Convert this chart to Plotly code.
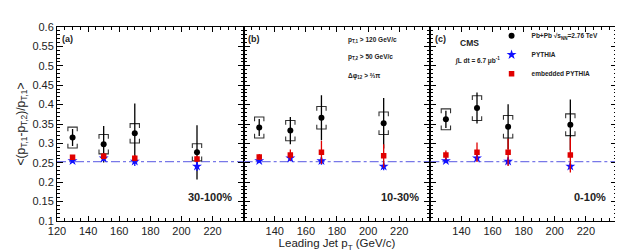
import plotly.graph_objects as go
from plotly.subplots import make_subplots

# ---------------- data ----------------
lead_pt = [130, 150, 170, 210]
panel_labels = ["(a)", "(b)", "(c)"]
centrality = ["30-100%", "10-30%", "0-10%"]

pbpb_a = [0.315, 0.298, 0.326, 0.277]
pbpb_stat_a = [0.022, 0.047, 0.077, 0.070]
pbpb_sys_a = [0.027, 0.025, 0.025, 0.022]
emb_a = [0.264, 0.267, 0.262, 0.260]
emb_err_a = [0.006, 0.008, 0.008, 0.008]
pyt_a = [0.255, 0.262, 0.254, 0.241]
pyt_err_a = [0.005, 0.008, 0.012, 0.012]

pbpb_b = [0.341, 0.333, 0.366, 0.352]
pbpb_stat_b = [0.022, 0.035, 0.058, 0.065]
pbpb_sys_b = [0.027, 0.026, 0.029, 0.029]
emb_b = [0.265, 0.270, 0.277, 0.268]
emb_err_b = [0.008, 0.014, 0.030, 0.030]
pyt_b = [0.255, 0.262, 0.255, 0.241]
pyt_err_b = [0.005, 0.008, 0.010, 0.010]

pbpb_c = [0.362, 0.391, 0.343, 0.348]
pbpb_stat_c = [0.022, 0.040, 0.058, 0.065]
pbpb_sys_c = [0.027, 0.032, 0.029, 0.028]
emb_c = [0.270, 0.277, 0.277, 0.270]
emb_err_c = [0.012, 0.025, 0.035, 0.045]
pyt_c = [0.255, 0.262, 0.254, 0.241]
pyt_err_c = [0.005, 0.006, 0.010, 0.010]

pythia_ref = 0.253
x_range = [120, 240]
y_range = [0.1, 0.6]

panels = [
    (pbpb_a, pbpb_stat_a, pbpb_sys_a, emb_a, emb_err_a, pyt_a, pyt_err_a),
    (pbpb_b, pbpb_stat_b, pbpb_sys_b, emb_b, emb_err_b, pyt_b, pyt_err_b),
    (pbpb_c, pbpb_stat_c, pbpb_sys_c, emb_c, emb_err_c, pyt_c, pyt_err_c),
]

FONT = "Liberation Sans, Arial, sans-serif"
BLUE = "#1010ff"
RED = "#e00000"

fig = make_subplots(rows=1, cols=3, shared_yaxes=True, horizontal_spacing=0)

br_w = 3.0     # half width of systematic bracket (data units)
br_t = 0.011   # bracket tick length (data units)

for i, (d, st, sy, em, eme, py, pye) in enumerate(panels):
    col = i + 1
    # reference line
    fig.add_trace(go.Scatter(x=x_range, y=[pythia_ref, pythia_ref], mode="lines",
                             line=dict(color="#7878e8", width=1.2, dash="dashdot"),
                             showlegend=False, hoverinfo="skip"), row=1, col=col)
    # systematic brackets
    bx, by = [], []
    for x, y, s in zip(lead_pt, d, sy):
        top, bot = y + s, y - s
        bx += [x - br_w, x - br_w, x + br_w, x + br_w, None,
               x - br_w, x - br_w, x + br_w, x + br_w, None]
        by += [top - br_t, top, top, top - br_t, None,
               bot + br_t, bot, bot, bot + br_t, None]
    fig.add_trace(go.Scatter(x=bx, y=by, mode="lines",
                             line=dict(color="#333333", width=1.1),
                             showlegend=False, hoverinfo="skip"), row=1, col=col)
    # Pb+Pb data
    fig.add_trace(go.Scatter(x=lead_pt, y=d, mode="markers",
                             marker=dict(symbol="circle", size=6, color="black"),
                             error_y=dict(type="data", array=st, color="black",
                                          thickness=1.3, width=0),
                             name="<b>Pb+Pb √s<sub>NN</sub>=2.76 TeV</b>", legendrank=1,
                             showlegend=(i == 0)), row=1, col=col)
    # PYTHIA
    fig.add_trace(go.Scatter(x=lead_pt, y=py, mode="markers",
                             marker=dict(symbol="star", size=7.5, color=BLUE),
                             error_y=dict(type="data", array=pye, color=BLUE,
                                          thickness=1.3, width=0),
                             name="<b>PYTHIA</b>", legendrank=2,
                             showlegend=(i == 0)), row=1, col=col)
    # embedded PYTHIA
    fig.add_trace(go.Scatter(x=lead_pt, y=em, mode="markers",
                             marker=dict(symbol="square", size=5.5, color=RED),
                             error_y=dict(type="data", array=eme, color=RED,
                                          thickness=1.3, width=0),
                             name="<b>embedded PYTHIA</b>", legendrank=3,
                             showlegend=(i == 0)), row=1, col=col)

axis_common = dict(showline=True, linecolor="black", linewidth=1, mirror="ticks",
                   ticks="inside", tickcolor="black", showgrid=False, zeroline=False,
                   tickfont=dict(family=FONT, size=11, color="#222"))

for i in range(3):
    col = i + 1
    tv = [120, 140, 160, 180, 200, 220, 240]
    if i == 0:
        tt = ["120", "140", "160", "180", "200", "220", ""]
    else:
        tt = ["", "140", "160", "180", "200", "220", ""]
    fig.update_xaxes(range=x_range, tickvals=tv, ticktext=tt, ticklen=5,
                     minor=dict(dtick=5, ticklen=3, ticks="inside", tickcolor="black", showgrid=False),
                     **axis_common, row=1, col=col)
    fig.update_yaxes(range=y_range, dtick=0.05, tick0=0.1, ticklen=6,
                     minor=dict(dtick=0.01, ticklen=3, ticks="inside", tickcolor="black", showgrid=False),
                     showticklabels=(i == 0),
                     **axis_common, row=1, col=col)

fig.update_xaxes(title=dict(text="Leading Jet p<sub>T</sub> (GeV/c)",
                            font=dict(family=FONT, size=11.5, color="#222"), standoff=2),
                 row=1, col=2)
fig.update_yaxes(title=dict(text="&lt;(p<sub>T,1</sub>-p<sub>T,2</sub>)/p<sub>T,1</sub>&gt;",
                            font=dict(family=FONT, size=12, color="#222"), standoff=4),
                 row=1, col=1)

ann = []
for i in range(3):
    xr = "x domain" if i == 0 else f"x{i+1} domain"
    ann.append(dict(text=f"<b>{panel_labels[i]}</b>", xref=xr, yref="y", x=0.015, y=0.568,
                    xanchor="left", yanchor="middle", showarrow=False,
                    font=dict(family=FONT, size=9, color="#222")))
    ann.append(dict(text=f"<b>{centrality[i]}</b>", xref=xr, yref="y", x=0.95, y=0.163,
                    xanchor="right", yanchor="middle", showarrow=False,
                    font=dict(family=FONT, size=11, color="#222")))

small = dict(family=FONT, size=6.5, color="#222")
ann += [
    dict(text="<b>p<sub>T,1</sub> &gt; 120 GeV/c</b>", xref="x2 domain", yref="y", x=0.55, y=0.567,
         xanchor="left", yanchor="middle", showarrow=False, font=small),
    dict(text="<b>p<sub>T,2</sub> &gt; 50 GeV/c</b>", xref="x2 domain", yref="y", x=0.55, y=0.522,
         xanchor="left", yanchor="middle", showarrow=False, font=small),
    dict(text="<b>Δφ<sub>12</sub> &gt; ⅔π</b>", xref="x2 domain", yref="y", x=0.55, y=0.474,
         xanchor="left", yanchor="middle", showarrow=False, font=small),
    dict(text="<b>CMS</b>", xref="x3 domain", yref="y", x=0.15, y=0.560,
         xanchor="left", yanchor="middle", showarrow=False,
         font=dict(family=FONT, size=8.5, color="#222")),
    dict(text="<b>∫L dt = 6.7 μb<sup>-1</sup></b>", xref="x3 domain", yref="y", x=0.12, y=0.514,
         xanchor="left", yanchor="middle", showarrow=False,
         font=dict(family=FONT, size=6.5, color="#222")),
]

fig.update_layout(
    width=623, height=251,
    margin=dict(l=45, r=14, t=19, b=31),
    paper_bgcolor="white", plot_bgcolor="white",
    annotations=ann,
    showlegend=True,
    legend=dict(x=0.776, y=1.03, xanchor="left", yanchor="top",
                bgcolor="rgba(0,0,0,0)", borderwidth=0,
                font=dict(family=FONT, size=6.5, color="#222"),
                itemwidth=30, tracegroupgap=0),
)

fig.write_html("out.html")
